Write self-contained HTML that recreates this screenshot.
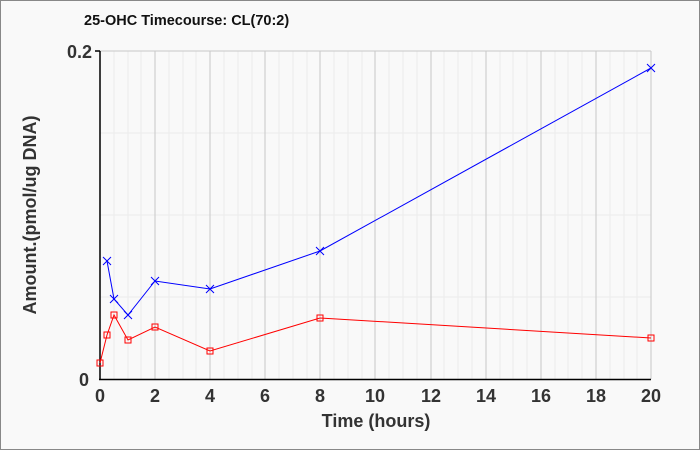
<!DOCTYPE html><html><head><style>body{margin:0}svg{display:block;font-family:"Liberation Sans",sans-serif}</style></head><body>
<svg width="700" height="450" viewBox="0 0 700 450">
<rect x="0.5" y="0.5" width="699" height="449" fill="#f9f9f9" stroke="#888"/>
<text x="84" y="25" font-size="14.5" font-weight="bold" fill="#111">25-OHC Timecourse: CL(70:2)</text>
<g stroke="#ececec" stroke-width="1">
<line x1="114" y1="51" x2="114" y2="379"/><line x1="128" y1="51" x2="128" y2="379"/><line x1="141" y1="51" x2="141" y2="379"/>
<line x1="169" y1="51" x2="169" y2="379"/><line x1="183" y1="51" x2="183" y2="379"/><line x1="196" y1="51" x2="196" y2="379"/>
<line x1="224" y1="51" x2="224" y2="379"/><line x1="238" y1="51" x2="238" y2="379"/><line x1="252" y1="51" x2="252" y2="379"/>
<line x1="279" y1="51" x2="279" y2="379"/><line x1="293" y1="51" x2="293" y2="379"/><line x1="307" y1="51" x2="307" y2="379"/>
<line x1="334" y1="51" x2="334" y2="379"/><line x1="348" y1="51" x2="348" y2="379"/><line x1="362" y1="51" x2="362" y2="379"/>
<line x1="389" y1="51" x2="389" y2="379"/><line x1="403" y1="51" x2="403" y2="379"/><line x1="417" y1="51" x2="417" y2="379"/>
<line x1="444" y1="51" x2="444" y2="379"/><line x1="458" y1="51" x2="458" y2="379"/><line x1="472" y1="51" x2="472" y2="379"/>
<line x1="500" y1="51" x2="500" y2="379"/><line x1="513" y1="51" x2="513" y2="379"/><line x1="527" y1="51" x2="527" y2="379"/>
<line x1="555" y1="51" x2="555" y2="379"/><line x1="568" y1="51" x2="568" y2="379"/><line x1="582" y1="51" x2="582" y2="379"/>
<line x1="610" y1="51" x2="610" y2="379"/><line x1="624" y1="51" x2="624" y2="379"/><line x1="637" y1="51" x2="637" y2="379"/>
<line x1="100" y1="133" x2="651" y2="133"/><line x1="100" y1="215" x2="651" y2="215"/><line x1="100" y1="297" x2="651" y2="297"/>
</g>
<g stroke="#c8c8c8" stroke-width="1">
<line x1="155" y1="51" x2="155" y2="379"/><line x1="210" y1="51" x2="210" y2="379"/><line x1="265" y1="51" x2="265" y2="379"/>
<line x1="320" y1="51" x2="320" y2="379"/><line x1="375" y1="51" x2="375" y2="379"/><line x1="431" y1="51" x2="431" y2="379"/>
<line x1="486" y1="51" x2="486" y2="379"/><line x1="541" y1="51" x2="541" y2="379"/><line x1="596" y1="51" x2="596" y2="379"/>
<line x1="651" y1="51" x2="651" y2="379"/><line x1="100" y1="51" x2="651" y2="51"/>
</g>
<g stroke="#000" stroke-width="1.5"><line x1="100" y1="51" x2="100" y2="380"/><line x1="99" y1="379.5" x2="651" y2="379.5"/><line x1="95" y1="51" x2="100" y2="51"/></g>
<g font-size="18" font-weight="bold" fill="#333" text-anchor="middle">
<text x="100" y="402">0</text><text x="155" y="402">2</text><text x="210" y="402">4</text><text x="265" y="402">6</text><text x="320" y="402">8</text><text x="375" y="402">10</text><text x="431" y="402">12</text><text x="486" y="402">14</text><text x="541" y="402">16</text><text x="596" y="402">18</text><text x="651" y="402">20</text>
<text x="376" y="427">Time (hours)</text>
<text x="89" y="386" text-anchor="end">0</text><text x="92" y="58" text-anchor="end">0.2</text>
<text transform="translate(36,215) rotate(-90)">Amount.(pmol/ug DNA)</text>
</g>
<polyline fill="none" stroke="#00f" stroke-width="1" points="107,261 114,299 128,315 155,281 210,289 320,251 651,68"/>
<g stroke="#00f" stroke-width="1">
<path d="M103,257l8,8M111,257l-8,8M110,295l8,8M118,295l-8,8M124,311l8,8M132,311l-8,8M151,277l8,8M159,277l-8,8M206,285l8,8M214,285l-8,8M316,247l8,8M324,247l-8,8M647,64l8,8M655,64l-8,8"/>
</g>
<polyline fill="none" stroke="#f00" stroke-width="1" points="100,363 107,335 114,315 128,340 155,327 210,351 320,318 651,338"/>
<g fill="none" stroke="#f00" stroke-width="1">
<rect x="97" y="360" width="6" height="6"/><rect x="104" y="332" width="6" height="6"/><rect x="111" y="312" width="6" height="6"/><rect x="125" y="337" width="6" height="6"/><rect x="152" y="324" width="6" height="6"/><rect x="207" y="348" width="6" height="6"/><rect x="317" y="315" width="6" height="6"/><rect x="648" y="335" width="6" height="6"/>
</g>
</svg></body></html>
